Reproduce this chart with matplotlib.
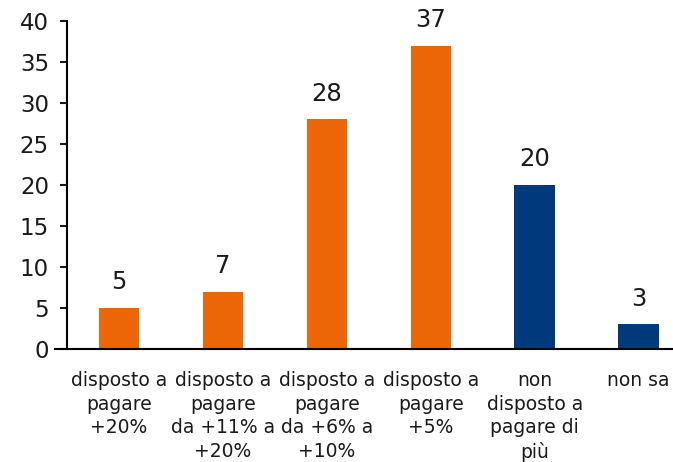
import matplotlib

matplotlib.use("Agg")
import matplotlib.pyplot as plt

# values
categories = [
    "disposto a\npagare\n+20%",
    "disposto a\npagare\nda +11% a\n+20%",
    "disposto a\npagare\nda +6% a\n+10%",
    "disposto a\npagare\n+5%",
    "non\ndisposto a\npagare di\npiù",
    "non sa",
]
values = [5, 7, 28, 37, 20, 3]
bar_colors = ["#EC6608", "#EC6608", "#EC6608", "#EC6608", "#003A7D", "#003A7D"]
y_ticks = [0, 5, 10, 15, 20, 25, 30, 35, 40]

plt.rcParams["font.family"] = ["DejaVu Sans"]

fig = plt.figure(figsize=(6.73, 4.62), dpi=100)
ax = fig.add_axes([67 / 673, 113 / 462, (673 - 67) / 673, 328 / 462])

xs = range(len(values))
bars = ax.bar(xs, values, width=0.39, color=bar_colors)

# value labels above each bar
for rect, v in zip(bars, values):
    ax.annotate(
        str(v),
        (rect.get_x() + rect.get_width() / 2, v),
        xytext=(0, 10),
        textcoords="offset points",
        ha="center",
        va="bottom",
        fontsize=17.5,
        color="#1a1a1a",
    )

ax.set_xlim(-0.5, 5.33)
ax.set_ylim(0, 40)
ax.set_yticks(y_ticks)
ax.tick_params(axis="y", direction="out", length=5, width=1.5, labelsize=16.5, pad=8, colors="#1a1a1a")
ax.set_xticks(list(xs))
ax.set_xticklabels(categories, fontsize=13.5, linespacing=1.3, color="#1a1a1a")
ax.tick_params(axis="x", length=0, pad=16)

for side in ("top", "right"):
    ax.spines[side].set_visible(False)
ax.spines["left"].set_linewidth(1.5)
ax.spines["bottom"].set_linewidth(1.5)
ax.spines["bottom"].set_bounds(-0.62, 5.33)

fig.savefig("out.png", dpi=100)
